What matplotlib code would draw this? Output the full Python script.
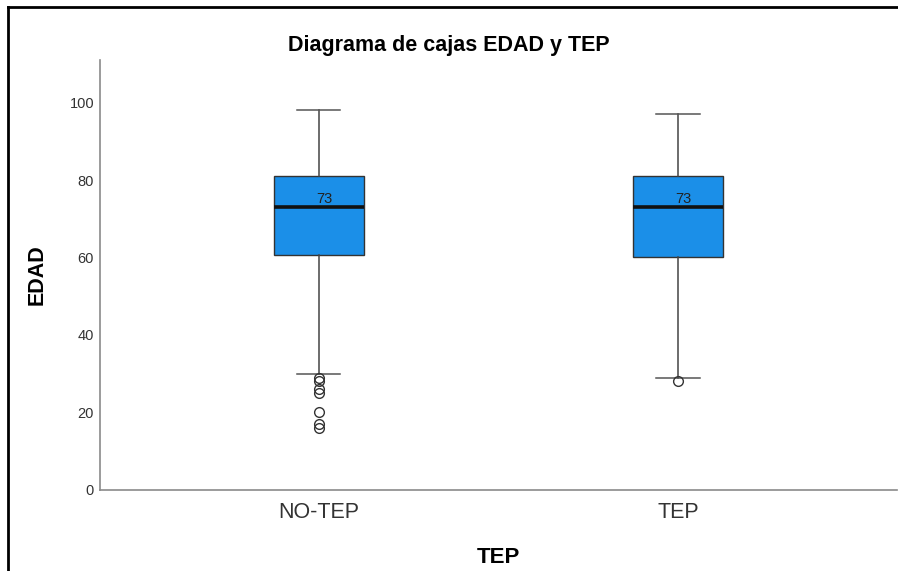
import matplotlib.pyplot as plt
from matplotlib.lines import Line2D

plt.rcParams['font.family'] = ['Liberation Sans', 'DejaVu Sans']

# resumen de EDAD por grupo TEP
grupos = ["NO-TEP", "TEP"]
mediana = [73, 73]
q1 = [60.7, 60.2]
q3 = [81.1, 81.0]
bigote_inf = [30, 29]
bigote_sup = [98, 97]
atipicos = [[29, 28, 26, 25, 20, 17, 16], [28]]

stats = []
for i, g in enumerate(grupos):
    stats.append({
        "label": g,
        "med": mediana[i],
        "q1": q1[i],
        "q3": q3[i],
        "whislo": bigote_inf[i],
        "whishi": bigote_sup[i],
        "fliers": atipicos[i],
    })

fig = plt.figure(figsize=(8.98, 5.71), dpi=100)
ax = fig.add_axes([0.111, 0.142, 0.888, 0.753])

pos = [1, 2]
ax.bxp(
    stats,
    positions=pos,
    widths=0.25,
    patch_artist=True,
    boxprops=dict(facecolor="#1b8fe8", edgecolor="#333333", linewidth=1),
    medianprops=dict(color="#111111", linewidth=2.6),
    whiskerprops=dict(color="#444444", linewidth=1.1),
    capprops=dict(color="#555555", linewidth=1.1),
    capwidths=0.12,
    flierprops=dict(marker="o", markerfacecolor="none", markeredgecolor="#333333",
                    markersize=7, markeredgewidth=1),
)

for p, m in zip(pos, mediana):
    ax.text(p + 0.015, m + 0.4, str(m), ha="center", va="bottom",
            fontsize=10.5, color="#222222")

ax.set_xlim(0.39, 2.61)
ax.set_ylim(0, 111)
ax.set_yticks([0, 20, 40, 60, 80, 100])
ax.set_xticks(pos)
ax.set_xticklabels(grupos)
ax.tick_params(axis="y", length=0, pad=4, labelsize=10.5, labelcolor="#333333")
ax.tick_params(axis="x", length=0, pad=9, labelsize=15.5, labelcolor="#333333")
for s in ["top", "right"]:
    ax.spines[s].set_visible(False)
for s in ["left", "bottom"]:
    ax.spines[s].set_color("#8a8a8a")
    ax.spines[s].set_linewidth(1.2)

ax.set_ylabel("EDAD", fontsize=15.5, fontweight="bold", labelpad=16)
ax.set_xlabel("TEP", fontsize=16, fontweight="bold", labelpad=17)
fig.text(0.5, 0.921, "Diagrama de cajas EDAD y TEP", ha="center", va="center",
         fontsize=15.5, fontweight="bold")

# marco exterior (solo lados izquierdo y superior)
fig.add_artist(Line2D([0.009, 0.009], [0, 0.987], transform=fig.transFigure,
                      color="black", linewidth=2))
fig.add_artist(Line2D([0.009, 1.0], [0.987, 0.987], transform=fig.transFigure,
                      color="black", linewidth=2))

fig.savefig("out.png", dpi=100)
